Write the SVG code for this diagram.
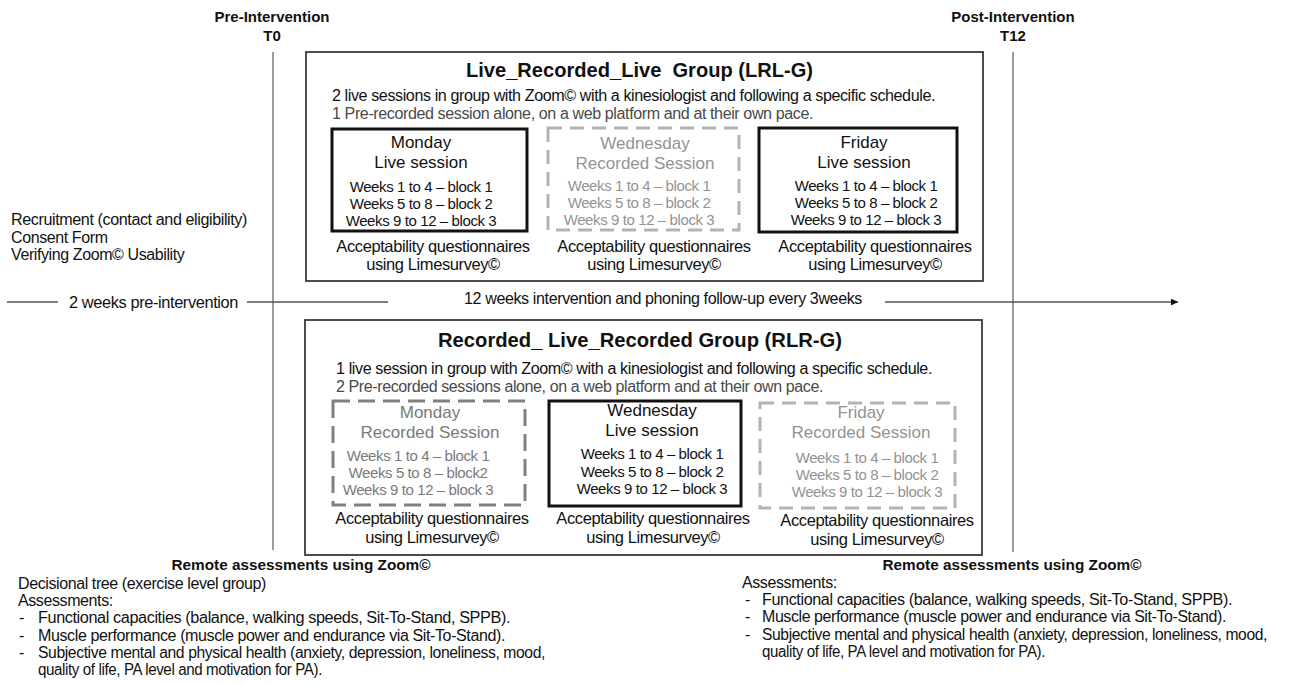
<svg xmlns="http://www.w3.org/2000/svg" width="1292" height="684" viewBox="0 0 1292 684">
<style>
text{font-family:"Liberation Sans",Arial,sans-serif;fill:#111}
.hd{font-size:15px;font-weight:bold;text-anchor:middle}
.tt{font-size:20px;font-weight:bold;text-anchor:middle}
.ln{font-size:16px;letter-spacing:-0.4px}
.g2{fill:#4a4a4a}
.bt{font-size:17px;text-anchor:middle}
.wk{font-size:15px;letter-spacing:-0.4px;text-anchor:middle}
.ac{font-size:16.5px;letter-spacing:-0.4px;text-anchor:middle}
.lg{fill:#939393}
.mg{fill:#7a7a7a}
.outer{fill:none;stroke:#3a3a3a;stroke-width:1.8}
.live{fill:none;stroke:#111;stroke-width:3}
.recl{fill:none;stroke:#b3b3b3;stroke-width:3;stroke-dasharray:14 8}
.recd{fill:none;stroke:#808080;stroke-width:3;stroke-dasharray:17 8}
.vl{stroke:#5a5a5a;stroke-width:1.2;fill:none}
.tl{stroke:#555;stroke-width:1.3;fill:none}
</style>
<defs>
<marker id="ah" viewBox="0 0 10 10" refX="10" refY="5" markerWidth="9" markerHeight="7" markerUnits="userSpaceOnUse" orient="auto">
<path d="M0,0 L10,5 L0,10 z" fill="#111"/>
</marker>
</defs>

<g id="phase-labels">
<text class="hd" x="272" y="22">Pre-Intervention</text>
<text class="hd" x="272" y="41">T0</text>
<text class="hd" x="1013" y="22">Post-Intervention</text>
<text class="hd" x="1013" y="41">T12</text>
</g>

<g id="connectors">
<line class="vl" x1="273" y1="52" x2="273" y2="550"/>
<line class="vl" x1="1013" y1="52" x2="1013" y2="552"/>
<line class="tl" x1="7" y1="302" x2="58" y2="302"/>
<line class="tl" x1="247" y1="302" x2="388" y2="302"/>
<line class="tl" x1="885" y1="302" x2="1178" y2="302" marker-end="url(#ah)"/>
</g>

<g id="recruitment">
<text class="ln" x="11" y="225" textLength="236" lengthAdjust="spacingAndGlyphs">Recruitment (contact and eligibility)</text>
<text class="ln" x="11" y="243">Consent Form</text>
<text class="ln" x="11" y="260">Verifying Zoom© Usability</text>
</g>

<g id="timeline-labels">
<text class="ln" x="69" y="308" style="font-size:16.5px" textLength="169" lengthAdjust="spacingAndGlyphs">2 weeks pre-intervention</text>
<text class="ln" x="464" y="304" style="font-size:16.5px" textLength="398" lengthAdjust="spacingAndGlyphs">12 weeks intervention and phoning follow-up every 3weeks</text>
</g>

<g id="lrl-group">
<rect class="outer" x="306" y="52" width="677" height="229"/>
<text class="tt" x="639.5" y="77" xml:space="preserve" textLength="347" lengthAdjust="spacingAndGlyphs">Live_Recorded_Live  Group (LRL-G)</text>
<text class="ln" x="332" y="101" textLength="603" lengthAdjust="spacingAndGlyphs">2 live sessions in group with Zoom© with a kinesiologist and following a specific schedule.</text>
<text class="ln g2" x="332" y="119" textLength="481" lengthAdjust="spacingAndGlyphs">1 Pre-recorded session alone, on a web platform and at their own pace.</text>
</g>

<g id="lrl-monday">
<rect class="live" x="332" y="129" width="195" height="102"/>
<text class="bt" x="421" y="148">Monday</text>
<text class="bt" x="421" y="168">Live session</text>
<text class="wk" x="421" y="192">Weeks 1 to 4 – block 1</text>
<text class="wk" x="421" y="209">Weeks 5 to 8 – block 2</text>
<text class="wk" x="421" y="226">Weeks 9 to 12 – block 3</text>
<text class="ac" x="433" y="252">Acceptability questionnaires</text>
<text class="ac" x="433" y="270">using Limesurvey©</text>
</g>

<g id="lrl-wednesday">
<rect class="recl" x="548" y="128" width="191" height="102"/>
<text class="bt lg" x="645" y="149">Wednesday</text>
<text class="bt lg" x="645" y="169">Recorded Session</text>
<text class="wk lg" x="639" y="191">Weeks 1 to 4 – block 1</text>
<text class="wk lg" x="639" y="208">Weeks 5 to 8 – block 2</text>
<text class="wk lg" x="639" y="225">Weeks 9 to 12 – block 3</text>
<text class="ac" x="654" y="252">Acceptability questionnaires</text>
<text class="ac" x="654" y="270">using Limesurvey©</text>
</g>

<g id="lrl-friday">
<rect class="live" x="759" y="128" width="198" height="104"/>
<text class="bt" x="864" y="148">Friday</text>
<text class="bt" x="864" y="168">Live session</text>
<text class="wk" x="866" y="191">Weeks 1 to 4 – block 1</text>
<text class="wk" x="866" y="208">Weeks 5 to 8 – block 2</text>
<text class="wk" x="866" y="225">Weeks 9 to 12 – block 3</text>
<text class="ac" x="875" y="252">Acceptability questionnaires</text>
<text class="ac" x="875" y="270">using Limesurvey©</text>
</g>

<g id="rlr-group">
<rect class="outer" x="305" y="320" width="677" height="235"/>
<text class="tt" x="640" y="347" textLength="404" lengthAdjust="spacingAndGlyphs">Recorded_ Live_Recorded Group (RLR-G)</text>
<text class="ln" x="336" y="374" textLength="596" lengthAdjust="spacingAndGlyphs">1 live session in group with Zoom© with a kinesiologist and following a specific schedule.</text>
<text class="ln g2" x="336" y="392" textLength="487" lengthAdjust="spacingAndGlyphs">2 Pre-recorded sessions alone, on a web platform and at their own pace.</text>
</g>

<g id="rlr-monday">
<rect class="recd" x="333" y="401" width="192" height="104"/>
<text class="bt mg" x="430" y="418">Monday</text>
<text class="bt mg" x="430" y="438">Recorded Session</text>
<text class="wk mg" x="418" y="461">Weeks 1 to 4 – block 1</text>
<text class="wk mg" x="418" y="478">Weeks 5 to 8 – block2</text>
<text class="wk mg" x="418" y="495">Weeks 9 to 12 – block 3</text>
<text class="ac" x="432" y="524">Acceptability questionnaires</text>
<text class="ac" x="432" y="543">using Limesurvey©</text>
</g>

<g id="rlr-wednesday">
<rect class="live" x="549" y="401" width="192" height="105"/>
<text class="bt" x="652" y="416">Wednesday</text>
<text class="bt" x="652" y="436">Live session</text>
<text class="wk" x="652" y="459">Weeks 1 to 4 – block 1</text>
<text class="wk" x="652" y="477">Weeks 5 to 8 – block 2</text>
<text class="wk" x="652" y="494">Weeks 9 to 12 – block 3</text>
<text class="ac" x="653" y="524">Acceptability questionnaires</text>
<text class="ac" x="653" y="543">using Limesurvey©</text>
</g>

<g id="rlr-friday">
<rect class="recl" x="760" y="403" width="195" height="105"/>
<text class="bt lg" x="861" y="418">Friday</text>
<text class="bt lg" x="861" y="438">Recorded Session</text>
<text class="wk lg" x="867" y="463">Weeks 1 to 4 – block 1</text>
<text class="wk lg" x="867" y="480">Weeks 5 to 8 – block 2</text>
<text class="wk lg" x="867" y="497">Weeks 9 to 12 – block 3</text>
<text class="ac" x="877" y="526">Acceptability questionnaires</text>
<text class="ac" x="877" y="545">using Limesurvey©</text>
</g>

<g id="pre-assessments">
<text class="hd" x="301" y="570" textLength="259" lengthAdjust="spacingAndGlyphs">Remote assessments using Zoom©</text>
<text class="ln" x="18" y="589">Decisional tree (exercise level group)</text>
<text class="ln" x="18" y="606">Assessments:</text>
<text class="ln" x="19" y="623">-</text>
<text class="ln" x="38" y="623" textLength="472" lengthAdjust="spacingAndGlyphs">Functional capacities (balance, walking speeds, Sit-To-Stand, SPPB).</text>
<text class="ln" x="19" y="641">-</text>
<text class="ln" x="38" y="641" textLength="467" lengthAdjust="spacingAndGlyphs">Muscle performance (muscle power and endurance via Sit-To-Stand).</text>
<text class="ln" x="19" y="658">-</text>
<text class="ln" x="38" y="658" textLength="507" lengthAdjust="spacingAndGlyphs">Subjective mental and physical health (anxiety, depression, loneliness, mood,</text>
<text class="ln" x="38" y="675" textLength="284" lengthAdjust="spacingAndGlyphs">quality of life, PA level and motivation for PA).</text>
</g>

<g id="post-assessments">
<text class="hd" x="1012" y="570" textLength="259" lengthAdjust="spacingAndGlyphs">Remote assessments using Zoom©</text>
<text class="ln" x="742" y="588">Assessments:</text>
<text class="ln" x="745" y="605">-</text>
<text class="ln" x="762" y="605" textLength="470" lengthAdjust="spacingAndGlyphs">Functional capacities (balance, walking speeds, Sit-To-Stand, SPPB).</text>
<text class="ln" x="745" y="622">-</text>
<text class="ln" x="762" y="622" textLength="464" lengthAdjust="spacingAndGlyphs">Muscle performance (muscle power and endurance via Sit-To-Stand).</text>
<text class="ln" x="745" y="640">-</text>
<text class="ln" x="762" y="640" textLength="505" lengthAdjust="spacingAndGlyphs">Subjective mental and physical health (anxiety, depression, loneliness, mood,</text>
<text class="ln" x="762" y="657" textLength="283" lengthAdjust="spacingAndGlyphs">quality of life, PA level and motivation for PA).</text>
</g>
</svg>
